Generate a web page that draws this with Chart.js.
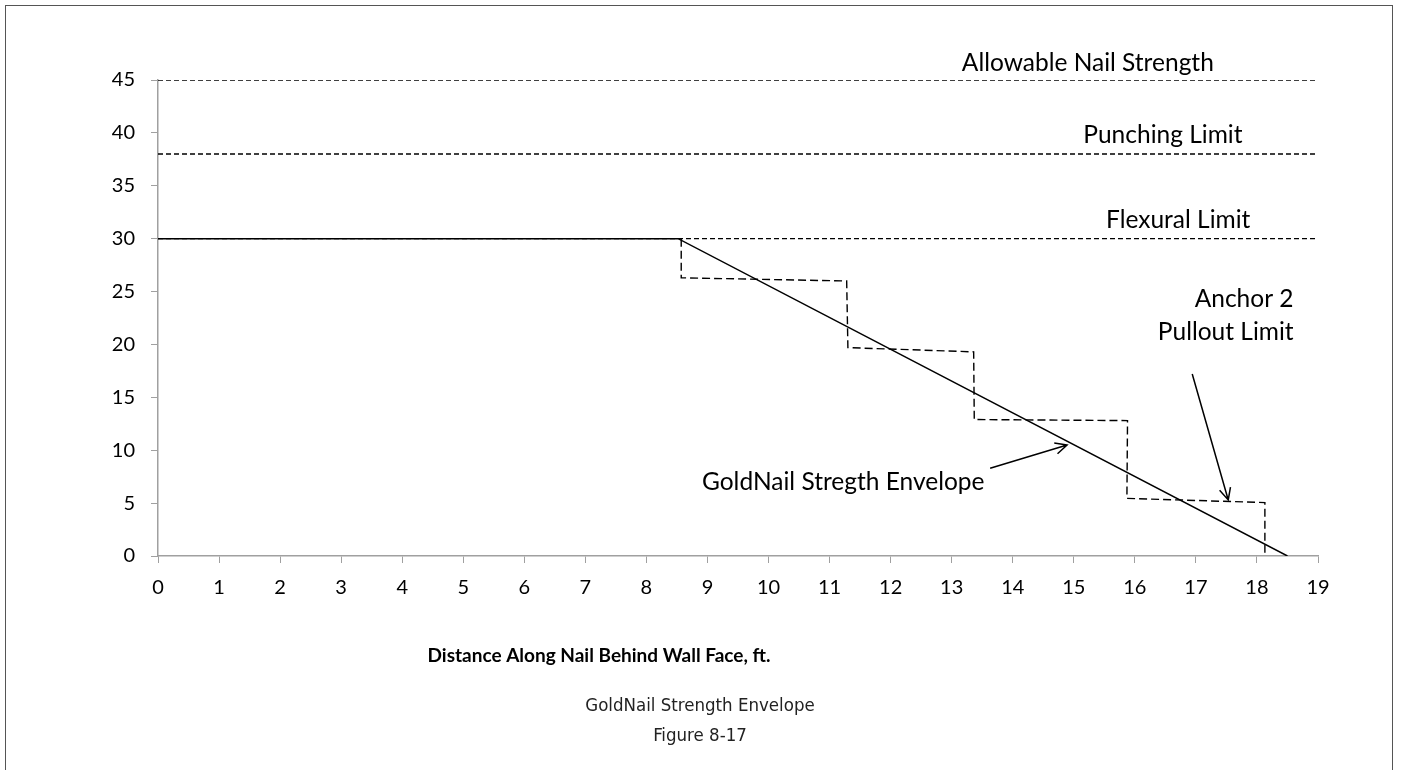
<!DOCTYPE html>
<html>
<head>
<meta charset="utf-8">
<script src="https://cdn.jsdelivr.net/npm/chart.js@4.4.1/dist/chart.umd.min.js"></script>
<style>
  body { margin: 0; background: #fff; }
  #frame { position: absolute; left: 5px; top: 5px; width: 1388px; height: 820px; border: 1px solid #555; box-sizing: border-box; }
  #chart { position: absolute; left: 0; top: 0; }
  #caption {
    position: absolute; left: 500px; width: 400px; top: 690px; text-align: center;
    font-family: "Liberation Sans Narrow", "DejaVu Sans Condensed", sans-serif;
    font-size: 18.5px; line-height: 30px; color: #222;
  }
</style>
</head>
<body>
<div id="frame"></div>
<canvas id="chart" width="1401" height="770"></canvas>
<div id="caption">GoldNail Strength Envelope<br>Figure 8-17</div>

<script>
// axis ranges / ticks
const xMin = 0, xMax = 19, xStep = 1;
const yMin = 0, yMax = 45, yStep = 5;

// horizontal limits (dashed)
const limitNames = ["Allowable Nail Strength", "Punching Limit", "Flexural Limit"];
const limitValues = [45, 38, 30];

// stepped anchor pullout limit (dashed)
const pulloutX = [8.57, 8.57, 11.28, 11.3, 13.36, 13.37, 15.88, 15.87, 18.13, 18.13];
const pulloutY = [30, 26.3, 26.0, 19.7, 19.3, 12.9, 12.8, 5.45, 5.05, 0];

// GoldNail strength envelope (solid)
const envelopeX = [0, 8.52, 18.5];
const envelopeY = [30, 30, 0];

// text labels in data coords
const labelText = ["Allowable Nail Strength", "Punching Limit", "Flexural Limit", "Anchor 2", "Pullout Limit", "GoldNail Stregth Envelope"];
const labelX = [15.23, 16.46, 16.71, 18.6, 18.6, 8.91];
const labelY = [46.6, 39.8, 31.8, 24.3, 21.2, 7.0];
const labelAlign = ["center", "center", "center", "right", "right", "left"];

// arrows: from -> to, in data coords
const arrowFromX = [13.63, 16.94];
const arrowFromY = [8.3, 17.2];
const arrowToX = [14.89, 17.53];
const arrowToY = [10.5, 5.3];

const xTitle = "Distance Along Nail Behind Wall Face, ft.";

const pts = (xs, ys) => xs.map((x, i) => ({ x: x, y: ys[i] }));

const datasets = [];
limitValues.forEach((v, i) => {
  datasets.push({
    label: limitNames[i],
    data: [{ x: xMin, y: v }, { x: xMax, y: v }],
    borderColor: "#000",
    borderWidth: 1.4,
    borderDash: [5, 3],
  });
});
datasets.push({
  label: "Anchor 2 Pullout Limit",
  data: pts(pulloutX, pulloutY),
  borderColor: "#000",
  borderWidth: 1.4,
  borderDash: [8, 4],
});
datasets.push({
  label: "GoldNail Strength Envelope",
  data: pts(envelopeX, envelopeY),
  borderColor: "#000",
  borderWidth: 1.5,
});

const FONT = "Lato, 'Open Sans', sans-serif";

// draw annotations, arrows and axis title
const notes = {
  id: "notes",
  afterDraw(chart) {
    const ctx = chart.ctx;
    const xs = chart.scales.x, ys = chart.scales.y;
    ctx.save();
    ctx.fillStyle = "#000";
    ctx.font = "24.5px " + FONT;
    ctx.textBaseline = "middle";
    labelText.forEach((t, i) => {
      ctx.textAlign = labelAlign[i];
      ctx.fillText(t, xs.getPixelForValue(labelX[i]), ys.getPixelForValue(labelY[i]));
    });

    ctx.strokeStyle = "#000";
    ctx.lineWidth = 1.5;
    arrowFromX.forEach((_, i) => {
      const x1 = xs.getPixelForValue(arrowFromX[i]), y1 = ys.getPixelForValue(arrowFromY[i]);
      const x2 = xs.getPixelForValue(arrowToX[i]), y2 = ys.getPixelForValue(arrowToY[i]);
      const a = Math.atan2(y2 - y1, x2 - x1);
      ctx.beginPath();
      ctx.moveTo(x1, y1);
      ctx.lineTo(x2, y2);
      ctx.moveTo(x2 - 13 * Math.cos(a - 0.45), y2 - 13 * Math.sin(a - 0.45));
      ctx.lineTo(x2, y2);
      ctx.lineTo(x2 - 13 * Math.cos(a + 0.45), y2 - 13 * Math.sin(a + 0.45));
      ctx.stroke();
    });

    ctx.font = "bold 19px " + FONT;
    ctx.textAlign = "center";
    ctx.fillText(xTitle, 599, 656);
    ctx.restore();
  },
};

new Chart(document.getElementById("chart"), {
  type: "scatter",
  data: { datasets },
  options: {
    responsive: false,
    animation: false,
    showLine: true,
    elements: { point: { radius: 0 }, line: { tension: 0 } },
    layout: { padding: { left: 98, right: 83, top: 80, bottom: 164 } },
    plugins: { legend: { display: false }, tooltip: { enabled: false } },
    scales: {
      x: {
        type: "linear",
        min: xMin, max: xMax,
        afterFit: (s) => { s.height = 50; },
        ticks: { stepSize: xStep, color: "#000", font: { family: FONT, size: 20 }, padding: 13 },
        grid: { drawOnChartArea: false, tickLength: 7, color: "#a0a0a0" },
        border: { color: "#a0a0a0", width: 1.5 },
      },
      y: {
        type: "linear",
        min: yMin, max: yMax,
        afterFit: (s) => { s.width = 60; },
        ticks: { stepSize: yStep, color: "#000", font: { family: FONT, size: 20 }, padding: 16 },
        grid: { drawOnChartArea: false, tickLength: 7, color: "#a0a0a0" },
        border: { color: "#a0a0a0", width: 1.5 },
      },
    },
  },
  plugins: [notes],
});
</script>
</body>
</html>
